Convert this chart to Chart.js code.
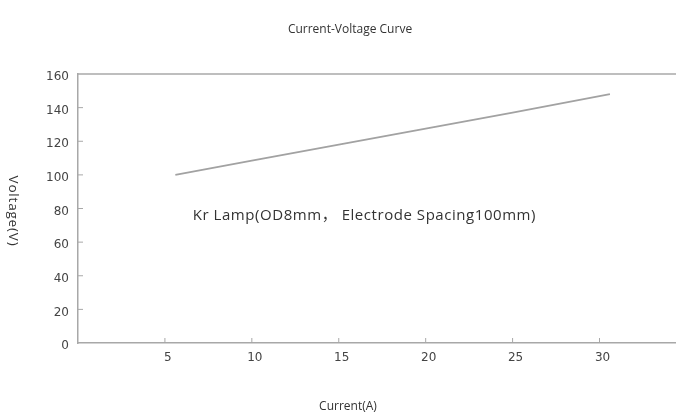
<!DOCTYPE html>
<html>
<head>
<meta charset="utf-8">
<script src="https://cdn.jsdelivr.net/npm/chart.js@4"></script>
<style>
  html, body { margin: 0; padding: 0; background: #fff; }
  #wrap { width: 676px; height: 416px; }
</style>
</head>
<body>
<div id="wrap"><canvas id="ivChart"></canvas></div>
<script>
// Data
const currentA = [5.6, 10, 15, 20, 25, 30.6];
const voltageV = [100, 108.5, 118, 127.5, 137, 148];
const xTicks = [5, 10, 15, 20, 25, 30];
const yTicks = [0, 20, 40, 60, 80, 100, 120, 140, 160];

const chartTitle = 'Current-Voltage Curve';
const xTitle = 'Current(A)';
const yTitle = 'Voltage(V)';
const noteText = 'Kr Lamp(OD8mm， Electrode Spacing100mm)';

const axisGray = '#a8a8a8';
const textColor = '#333';

// Draws the frame top, inward ticks and all free text
const decorations = {
    id: 'decorations',
    afterDraw(chart) {
        const ctx = chart.ctx;
        const area = chart.chartArea;
        const x = chart.scales.x;
        const y = chart.scales.y;

        ctx.save();
        ctx.strokeStyle = axisGray;
        ctx.lineWidth = 1.5;

        // top border
        ctx.beginPath();
        ctx.moveTo(area.left, area.top);
        ctx.lineTo(area.right, area.top);
        ctx.stroke();

        // inward tick marks
        ctx.lineWidth = 1;
        xTicks.forEach(v => {
            const px = x.getPixelForValue(v);
            ctx.beginPath();
            ctx.moveTo(px, area.bottom);
            ctx.lineTo(px, area.bottom - 5);
            ctx.stroke();
        });
        yTicks.slice(1, -1).forEach(v => {
            const py = y.getPixelForValue(v);
            ctx.beginPath();
            ctx.moveTo(area.left, py);
            ctx.lineTo(area.left + 5, py);
            ctx.stroke();
        });

        ctx.fillStyle = textColor;
        ctx.textBaseline = 'middle';

        // chart title
        ctx.font = '12px "Open Sans"';
        ctx.textAlign = 'center';
        ctx.fillText(chartTitle, 350, 30);

        // x axis title
        ctx.fillText(xTitle, 348, 407);

        // y axis title, reading top to bottom
        ctx.save();
        ctx.translate(13, 211);
        ctx.rotate(Math.PI / 2);
        ctx.font = '13.5px "Open Sans"';
        ctx.letterSpacing = '0.8px';
        ctx.fillText(yTitle, 0, 0);
        ctx.restore();

        // note inside the plot
        ctx.font = '15px "Open Sans", "Noto Sans CJK SC"';
        ctx.letterSpacing = '0.55px';
        ctx.textAlign = 'left';
        ctx.fillText(noteText, x.getPixelForValue(6.6), y.getPixelForValue(75.5));

        ctx.restore();
    }
};

new Chart(document.getElementById('ivChart'), {
    type: 'line',
    data: {
        datasets: [{
            data: currentA.map((c, i) => ({ x: c, y: voltageV[i] })),
            borderColor: '#a2a2a2',
            borderWidth: 1.8,
            pointRadius: 0,
            fill: false,
            tension: 0
        }]
    },
    options: {
        responsive: true,
        maintainAspectRatio: false,
        animation: false,
        layout: { padding: { top: 74, right: 0, left: 0, bottom: 0 } },
        plugins: {
            legend: { display: false },
            title: { display: false },
            tooltip: { enabled: false }
        },
        scales: {
            x: {
                type: 'linear',
                min: 0,
                max: 34.4,
                afterFit: s => { s.height = 73; },
                afterBuildTicks: s => { s.ticks = xTicks.map(v => ({ value: v })); },
                grid: { drawOnChartArea: false, drawTicks: false },
                border: { color: axisGray, width: 1.5 },
                ticks: {
                    padding: 8,
                    labelOffset: 3,
                    color: '#444',
                    font: { family: 'DejaVu Sans', size: 12 },
                    maxRotation: 0
                }
            },
            y: {
                min: 0,
                max: 160,
                afterFit: s => { s.width = 78; },
                afterBuildTicks: s => { s.ticks = yTicks.map(v => ({ value: v })); },
                grid: { drawOnChartArea: false, drawTicks: false },
                border: { color: axisGray, width: 1.5 },
                ticks: {
                    padding: 9,
                    labelOffset: 3,
                    color: '#444',
                    font: { family: 'DejaVu Sans', size: 12 }
                }
            }
        }
    },
    plugins: [decorations]
});
</script>
</body>
</html>
